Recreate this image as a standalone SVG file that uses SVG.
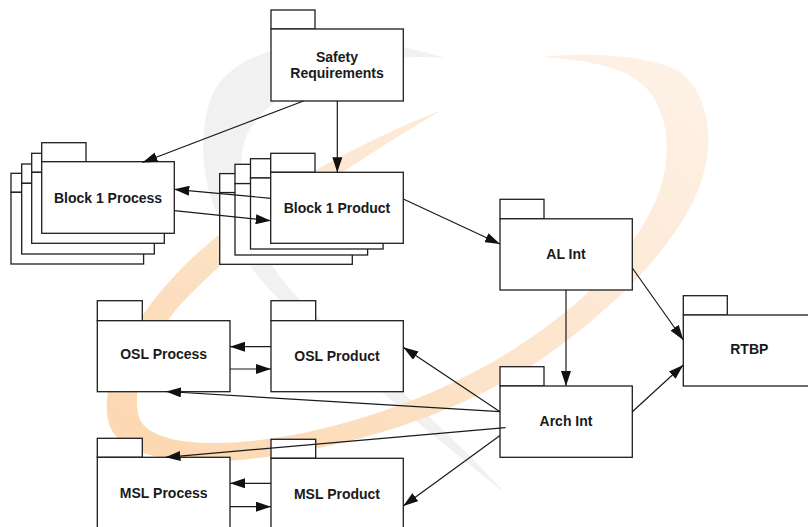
<svg xmlns="http://www.w3.org/2000/svg" width="808" height="527" viewBox="0 0 808 527">
  <defs>
    <style>
      .tab, .body { fill: #ffffff; stroke: #1e1e1e; stroke-width: 1.3; }
      .label { font-family: "Liberation Sans", Arial, Helvetica, sans-serif; font-weight: bold; font-size: 14px; fill: #1a1a1a; text-anchor: middle; }
      .conn { stroke: #1a1a1a; stroke-width: 1.2; fill: none; marker-end: url(#arrow); }
    </style>
    <marker id="arrow" markerWidth="15" markerHeight="10" refX="15" refY="5" orient="auto" markerUnits="userSpaceOnUse">
      <path d="M0,0 L15,5 L0,10 Z" fill="#111111"/>
    </marker>
    <linearGradient id="swooshOrange" x1="0.1" y1="0.95" x2="0.95" y2="0.05">
      <stop offset="0" stop-color="#fcd9b3"/>
      <stop offset="0.5" stop-color="#fde6cf"/>
      <stop offset="1" stop-color="#fef1e6"/>
    </linearGradient>
  </defs>

  <rect x="0" y="0" width="808" height="527" fill="#ffffff"/>

  <!-- background logo swooshes -->
  <g id="background">
    <path fill="#f1f1f1" d="M 445,58 C 360,30 240,35 212,95 C 195,140 200,210 250,265 C 270,300 400,410 505,493
             C 440,420 330,330 295,295 C 255,250 230,190 245,140 C 262,90 360,50 445,58 Z"/>
    <path fill="url(#swooshOrange)" d="M 442,110 C 340,150 240,210 185,265 C 130,320 100,380 108,420
             C 115,455 170,465 240,460 C 330,452 450,420 540,360 C 620,305 680,240 700,185
             C 718,135 705,90 680,72 C 650,55 590,52 541,57 C 590,60 630,68 648,90
             C 668,115 672,150 660,190 C 640,245 590,300 520,345 C 440,398 330,435 240,442
             C 185,446 150,438 140,420 C 130,395 145,345 180,305 C 240,240 340,170 442,110 Z"/>
  </g>

  <!-- nodes -->
  <g id="safety-requirements">
    <rect class="tab" x="271" y="10" width="44" height="19"/>
    <rect class="body" x="271" y="29" width="132.3" height="72"/>
    <text class="label" x="337" y="61.7">Safety</text>
    <text class="label" x="337" y="78.3">Requirements</text>
  </g>

  <g id="block1-process">
    <rect class="tab" x="11" y="173.3" width="44.3" height="19"/>
    <rect class="body" x="11" y="192.3" width="132.6" height="71.7"/>
    <rect class="tab" x="21.7" y="164" width="44.3" height="19.3"/>
    <rect class="body" x="21.7" y="183.3" width="132.6" height="70.7"/>
    <rect class="tab" x="31.7" y="153.3" width="44.3" height="19"/>
    <rect class="body" x="31.7" y="172.3" width="132.6" height="71"/>
    <rect class="tab" x="41.7" y="142.7" width="44.3" height="19"/>
    <rect class="body" x="41.7" y="161.7" width="132.6" height="71.6"/>
    <text class="label" x="108" y="202.6">Block 1 Process</text>
  </g>

  <g id="block1-product">
    <rect class="tab" x="219.7" y="173.6" width="44.3" height="19"/>
    <rect class="body" x="219.7" y="192.6" width="132.6" height="71.7"/>
    <rect class="tab" x="235" y="164.3" width="44.3" height="19.3"/>
    <rect class="body" x="235" y="183.6" width="132.6" height="71.4"/>
    <rect class="tab" x="250.5" y="158.7" width="44.3" height="19.3"/>
    <rect class="body" x="250.5" y="178" width="132.6" height="71"/>
    <rect class="tab" x="270.7" y="153.3" width="44.3" height="19"/>
    <rect class="body" x="270.7" y="172.3" width="132.6" height="71"/>
    <text class="label" x="337" y="213">Block 1 Product</text>
  </g>

  <g id="al-int">
    <rect class="tab" x="500" y="199.3" width="44" height="19.5"/>
    <rect class="body" x="500" y="218.8" width="132.3" height="71.2"/>
    <text class="label" x="566" y="259.4">AL Int</text>
  </g>

  <g id="rtbp">
    <rect class="tab" x="683.3" y="295.7" width="44" height="19.3"/>
    <rect class="body" x="683.3" y="315" width="132.3" height="71"/>
    <text class="label" x="749.3" y="354.4">RTBP</text>
  </g>

  <g id="arch-int">
    <rect class="tab" x="500" y="366.7" width="44" height="19.3"/>
    <rect class="body" x="500" y="386" width="132.3" height="71.3"/>
    <text class="label" x="566" y="426">Arch Int</text>
  </g>

  <g id="osl-process">
    <rect class="tab" x="97.3" y="300.7" width="45" height="20"/>
    <rect class="body" x="97.3" y="320.7" width="132.7" height="71"/>
    <text class="label" x="163.7" y="359.4">OSL Process</text>
  </g>

  <g id="osl-product">
    <rect class="tab" x="271" y="300.7" width="44.7" height="20"/>
    <rect class="body" x="271" y="320.7" width="132.3" height="71"/>
    <text class="label" x="337" y="360.6">OSL Product</text>
  </g>

  <g id="msl-process">
    <rect class="tab" x="97.3" y="438.3" width="45" height="19"/>
    <rect class="body" x="97.3" y="457.3" width="132.7" height="71"/>
    <text class="label" x="163.7" y="497.7">MSL Process</text>
  </g>

  <g id="msl-product">
    <rect class="tab" x="271" y="439.3" width="44.7" height="19"/>
    <rect class="body" x="271" y="458.3" width="132.3" height="71"/>
    <text class="label" x="337" y="499">MSL Product</text>
  </g>

  <!-- connectors -->
  <g id="connectors">
    <line class="conn" x1="303.5" y1="101" x2="142.5" y2="162.5"/>
    <line class="conn" x1="337.3" y1="101" x2="337.3" y2="172.3"/>
    <line class="conn" x1="270.7" y1="198.3" x2="174.3" y2="189.3"/>
    <line class="conn" x1="174.3" y1="210.7" x2="270.7" y2="220.7"/>
    <line class="conn" x1="403.3" y1="199" x2="500" y2="244"/>
    <line class="conn" x1="566" y1="290" x2="566" y2="386"/>
    <line class="conn" x1="632.3" y1="268" x2="683.3" y2="340"/>
    <line class="conn" x1="632.3" y1="411.7" x2="683.3" y2="365"/>
    <line class="conn" x1="271" y1="346.7" x2="230" y2="346.7"/>
    <line class="conn" x1="230" y1="369" x2="271" y2="369"/>
    <line class="conn" x1="500" y1="411.7" x2="403.3" y2="347.3"/>
    <line class="conn" x1="500" y1="411.7" x2="166" y2="391.5"/>
    <line class="conn" x1="505.5" y1="427.7" x2="165.5" y2="457.3"/>
    <line class="conn" x1="500" y1="435.5" x2="403.3" y2="506"/>
    <line class="conn" x1="271" y1="483.3" x2="230" y2="483.3"/>
    <line class="conn" x1="230" y1="506.7" x2="271" y2="506.7"/>
  </g>
</svg>
